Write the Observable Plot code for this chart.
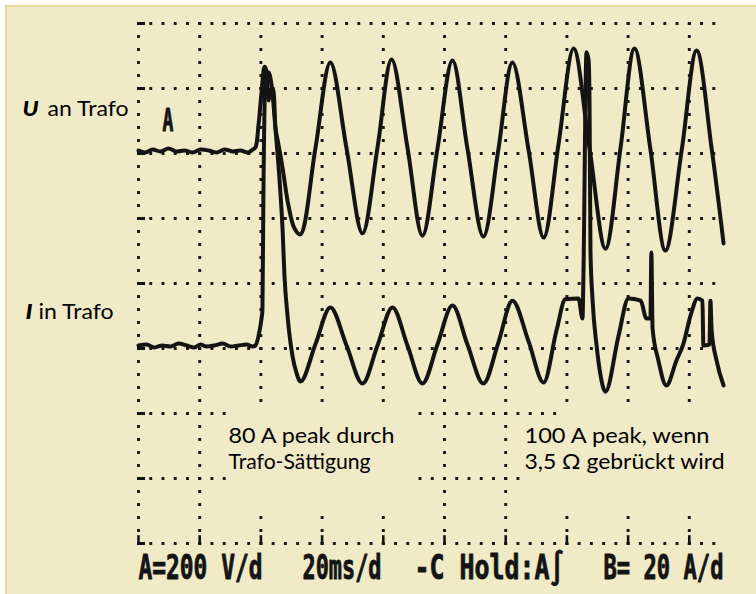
<!DOCTYPE html>
<html><head><meta charset="utf-8">
<script src="https://cdn.jsdelivr.net/npm/d3@7"></script>
<script src="https://cdn.jsdelivr.net/npm/@observablehq/plot@0.6"></script>
<style>
html,body{margin:0;padding:0;background:#fff;}
#wrap{position:relative;width:756px;height:594px;overflow:hidden;}
#bg{position:absolute;left:5px;top:5px;right:0;bottom:0;background:#f0eac7;border-top:2px solid #e2da98;border-left:2px solid #e2da98;}
#chart{position:absolute;left:0;top:0;}
</style></head><body>
<div id="wrap"><div id="bg"></div><div id="chart"></div></div>
<script>
// ---------- data ----------
// U trace: time (ms) and voltage (V), 200 V/div
const uTime = [0,2.3,4.6,7.2,9.8,12.4,15.0,17.6,20.3,22.9,25.5,28.1,30.7,33.3,35.9,37.3,38.2,
  39.2,40.2,41.2,41.8,42.5,43.1,43.8,44.8,45.8,47.1,49.0,51.0,52.9,
  57.8,62.7,68.0,73.2,78.1,82.7,87.9,92.8,97.7,102.6,107.5,112.7,117.6,122.2,127.5,132.4,
  137.3,142.2,147.4,152.6,157.5,162.1,167.3,172.2,177.5,182.4,187.3,191.2];
const uVolt = [0,-6,3,-3,6,-3,0,-6,3,0,-6,3,-3,0,-6,3,9,
  77,178,258,246,154,185,191,68,15,-55,-169,-240,-258,
  6,271,6,-255,9,280,9,-262,6,277,6,-265,3,271,0,-268,
  22,314,6,-302,6,314,3,-308,0,308,6,-286];
// I trace: time (ms) and current (A), 20 A/div
const iTime = [0,2.6,5.2,7.8,10.5,13.1,15.7,18.3,20.3,22.2,24.8,27.5,30.1,32.7,35.3,37.3,38.2,
  39.2,40.2,40.5,40.8,41.5,42.5,43.5,44.8,46.1,47.1,47.7,48.7,50.3,51.6,52.9,
  57.8,62.7,68.0,73.2,78.1,83.0,87.9,92.8,97.7,102.6,107.5,112.7,117.6,122.2,127.5,132.4,
  136.6,139.5,143.8,145.1,145.4,146.4,147.1,147.4,147.7,148.4,149.7,151.0,152.6,
  156.9,160.1,164.1,166.0,167.3,167.6,168.0,169.9,172.5,175.8,178.1,180.4,182.7,
  184.3,184.6,186.6,186.9,187.3,188.9,191.2];
const iAmp = [0,0.3,-0.6,0,-0.3,0.6,0,-0.6,0.3,-0.3,0,0.6,-0.3,0,0.3,-0.3,0,
  2.8,8.3,10.8,44.6,82.2,84,80,66.2,50.8,35.4,21.5,9.2,-3.1,-8.3,-11.1,
  0.3,11.7,0,-11.7,0,11.7,0,-11.7,0.3,12.3,0.3,-11.7,0.9,13.8,1.2,-11.4,
  4.6,14.2,14.5,8.3,21.5,90.2,87.7,74.5,29.2,13.8,0,-9.2,-14.2,
  3.1,14.5,13.8,8.3,8.3,28.6,5.2,-4.6,-12.3,-4.6,0.6,9.2,14.5,
  13.8,0,0.3,13.8,4.6,-4.6,-12.3];

const labelBold = ["U", "I"];
const labelRest = ["an Trafo", "in Trafo"];
const noteLines = ["80 A peak durch", "Trafo-Sättigung", "100 A peak, wenn", "3,5 Ω gebrückt wird"];
const statusTexts = ["A=200 V/d", "20ms/d", "-C Hold:A∫", "B= 20 A/d"];
const channelMarker = ["A"];

// grid: 20 ms / div horizontally, 8 divisions vertically
const vDivs = d3.range(0, 181, 20);
const hDivs = d3.range(0, 9);

// ---------- layout ----------
const PX = 3.06, PY = 65, X0 = 138, Y0 = 543;
const X = px => (px - X0) / PX;
const Y = py => (Y0 - py) / PY;
const U_ZERO = Y(150), I_ZERO = Y(345);
const V_PER_DIV = 200, A_PER_DIV = 20;

const uData = uTime.map((t, k) => ({t, y: U_ZERO + uVolt[k] / V_PER_DIV}));
const iData = iTime.map((t, k) => ({t, y: I_ZERO + iAmp[k] / A_PER_DIV}));

const masked = (t, y) =>
  (t > 29.5 && t < 90 && y > 0.5 && y < 2.15) ||
  (t > 126 && y > 0.5 && y < 1.95) ||
  (t > 138 && y >= 1.95 && y < 2.15);

const gridDots = [];
for (const y of hDivs) for (const t of d3.range(0, 189, 4)) if (!masked(t, y)) gridDots.push({t, y});
for (const t of vDivs) for (const y of d3.range(0, 8.01, 0.2)) if (!masked(t, y)) gridDots.push({t, y});

const ink = "#141414";
const sans = "Lato, 'Open Sans', sans-serif";
const mono = "'DejaVu Sans Mono', monospace";

const leftX = [X(22), X(25)], restX = [X(47), X(38)], leftY = [Y(115), Y(318)];
const noteX = [X(228), X(228), X(524), X(524)], noteY = [Y(442), Y(468), Y(442), Y(468)];
const statusX = [X(138), X(302), X(414), X(603)];

const chart = Plot.plot({
  width: 756, height: 594, margin: 0,
  x: {domain: [X(0), X(756)], axis: null},
  y: {domain: [Y(594), Y(0)], axis: null},
  style: {background: "transparent", overflow: "visible"},
  marks: [
    Plot.dot(gridDots, {x: "t", y: "y", symbol: "square", r: 1.65, fill: ink, stroke: null}),
    Plot.ruleY(hDivs, {y: d => d, x1: 0, x2: 2.3, stroke: ink, strokeWidth: 3}),
    Plot.ruleX(vDivs, {x: d => d, y1: 0, y2: 0.12, stroke: ink, strokeWidth: 2.6}),
    Plot.line(uData, {x: "t", y: "y", curve: "catmull-rom", stroke: ink, strokeWidth: 4, strokeLinejoin: "round"}),
    Plot.line(iData, {x: "t", y: "y", curve: "monotone-x", stroke: ink, strokeWidth: 4, strokeLinejoin: "round"}),
    Plot.text(labelBold, {x: (d, k) => leftX[k], y: (d, k) => leftY[k], text: d => d, textAnchor: "start", lineAnchor: "bottom",
      fontFamily: sans, fontSize: 21, fontWeight: 900, fontStyle: "italic", fill: "#000"}),
    Plot.text(labelRest, {x: (d, k) => restX[k], y: (d, k) => leftY[k], text: d => d, textAnchor: "start", lineAnchor: "bottom",
      fontFamily: sans, fontSize: 21, fill: "#000"}),
    Plot.text(noteLines, {x: (d, k) => noteX[k], y: (d, k) => noteY[k], text: d => d, textAnchor: "start", lineAnchor: "bottom",
      fontFamily: sans, fontSize: 21, fill: "#000"}),
    Plot.text(statusTexts, {x: (d, k) => statusX[k], y: Y(578), text: d => d, textAnchor: "start", lineAnchor: "bottom",
      fontFamily: mono, fontSize: 23, fontWeight: "bold", fill: ink, stroke: ink, strokeWidth: 0.6}),
    Plot.text(channelMarker, {x: X(162), y: Y(130), text: d => d, textAnchor: "start", lineAnchor: "bottom",
      fontFamily: mono, fontSize: 18, fontWeight: "bold", fill: ink, stroke: ink, strokeWidth: 0.6})
  ]
});

// exact widths measured on the reference
const lengths = new Map([
  ["U", 16], ["I", 7], ["an Trafo", 81], ["in Trafo", 75],
  ["80 A peak durch", 166], ["Trafo-Sättigung", 142], ["100 A peak, wenn", 185], ["3,5 Ω gebrückt wird", 200],
  ["A=200 V/d", 124], ["20ms/d", 79], ["-C Hold:A∫", 150], ["B= 20 A/d", 120]
]);
// tall, narrow scope font: stretch vertically around the baseline
const tall = new Map([["A=200 V/d", 1.43], ["20ms/d", 1.43], ["-C Hold:A∫", 1.43], ["B= 20 A/d", 1.43], ["A", 1.75]]);
d3.select(chart).selectAll("text").each(function () {
  const key = this.textContent;
  const L = lengths.get(key);
  if (L) { this.setAttribute("textLength", L); this.setAttribute("lengthAdjust", "spacingAndGlyphs"); }
  const s = tall.get(key);
  if (s) {
    let tr = this.getAttribute("transform") || "";
    const yAttr = this.getAttribute("y");
    const yNum = parseFloat(yAttr);
    if (yAttr && !/em$/.test(yAttr) && isFinite(yNum) && yNum !== 0) {
      this.setAttribute("y", 0);
      tr += ` translate(0,${yNum})`;
    }
    this.setAttribute("transform", `${tr} scale(1,${s})`);
  }
});
document.getElementById("chart").appendChild(chart);
</script>
</body></html>
